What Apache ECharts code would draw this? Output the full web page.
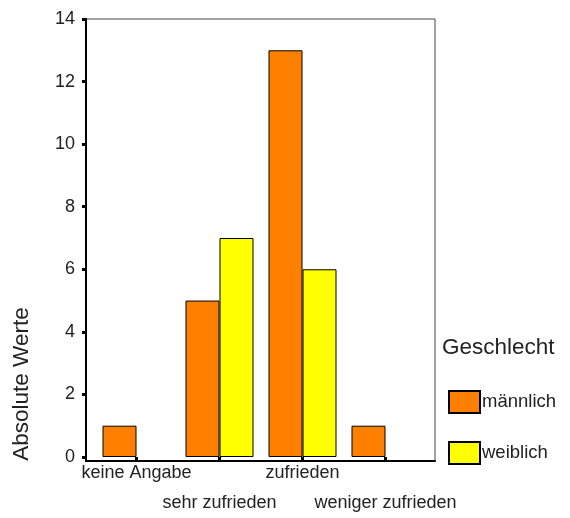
<!DOCTYPE html>
<html>
<head>
<meta charset="utf-8">
<script src="https://cdn.jsdelivr.net/npm/echarts@6/dist/echarts.min.js"></script>
<style>
  html, body { margin: 0; padding: 0; background: #fff; }
  #chart { width: 570px; height: 518px; }
</style>
</head>
<body>
<div id="chart"></div>
<script>
const categories = ['keine Angabe', 'sehr zufrieden', 'zufrieden', 'weniger zufrieden']
const maleValues = [1, 5, 13, 1]
const femaleValues = [0, 7, 6, 0]
const seriesNames = ['männlich', 'weiblich']

const font = 'Liberation Sans, Arial, sans-serif'
const chart = echarts.init(document.getElementById('chart'))

// empty cells (0) get no bar at all, like in the original
const noZero = (arr) => arr.map((v) => (v === 0 ? '-' : v))

const option = {
  animation: false,
  textStyle: { fontFamily: font },
  title: {
    text: 'Geschlecht',
    left: 437,
    top: 331,
    textStyle: { fontFamily: font, fontSize: 22.5, fontWeight: 'normal', color: '#222' }
  },
  legend: {
    orient: 'vertical',
    left: 443,
    top: 385,
    itemWidth: 31,
    itemHeight: 22,
    itemGap: 27,
    icon: 'rect',
    data: seriesNames,
    textStyle: { fontFamily: font, fontSize: 18.5, color: '#222', padding: [0, 0, 0, -3] }
  },
  graphic: [
    {
      type: 'text',
      x: 22,
      y: 384,
      rotation: Math.PI / 2,
      style: {
        text: 'Absolute Werte',
        font: '22.5px ' + font,
        fill: '#222',
        align: 'center',
        verticalAlign: 'middle'
      }
    }
  ],
  grid: [
    { left: 95, top: 19, width: 332, height: 442 },
    { left: 86, top: 19, width: 349, height: 442, show: true, borderColor: '#444', borderWidth: 1 }
  ],
  xAxis: [
    {
      type: 'category',
      gridIndex: 0,
      data: categories,
      axisLine: { show: false },
      axisTick: { show: true, alignWithLabel: true, length: 3, lineStyle: { color: '#000', width: 3 } },
      axisLabel: {
        interval: 0,
        margin: 1,
        fontSize: 18,
        lineHeight: 30,
        color: '#222',
        formatter: (v, i) => (i % 2 ? '\n' : '') + v
      }
    },
    {
      type: 'category',
      gridIndex: 1,
      data: categories,
      axisLine: { show: true, lineStyle: { color: '#000', width: 2 } },
      axisTick: { show: false },
      axisLabel: { show: false }
    }
  ],
  yAxis: [
    {
      type: 'value',
      gridIndex: 0,
      min: 0,
      max: 14,
      interval: 2,
      offset: 9,
      axisLine: { show: false },
      axisTick: { show: true, length: 4, lineStyle: { color: '#000', width: 3 } },
      axisLabel: { margin: 11, fontSize: 18, color: '#222' },
      splitLine: { show: false }
    },
    {
      type: 'value',
      gridIndex: 1,
      min: 0,
      max: 14,
      axisLine: { show: true, lineStyle: { color: '#000', width: 2 } },
      axisTick: { show: false },
      axisLabel: { show: false },
      splitLine: { show: false }
    }
  ],
  series: [
    {
      name: seriesNames[0],
      type: 'bar',
      xAxisIndex: 0,
      yAxisIndex: 0,
      data: noZero(maleValues),
      barWidth: 34,
      barGap: '0%',
      itemStyle: { color: '#FF8000', borderColor: '#000', borderWidth: 1 }
    },
    {
      name: seriesNames[1],
      type: 'bar',
      xAxisIndex: 0,
      yAxisIndex: 0,
      data: noZero(femaleValues),
      barWidth: 34,
      barGap: '0%',
      itemStyle: { color: '#FFFF00', borderColor: '#000', borderWidth: 1 }
    }
  ]
}

chart.setOption(option)
</script>
</body>
</html>
